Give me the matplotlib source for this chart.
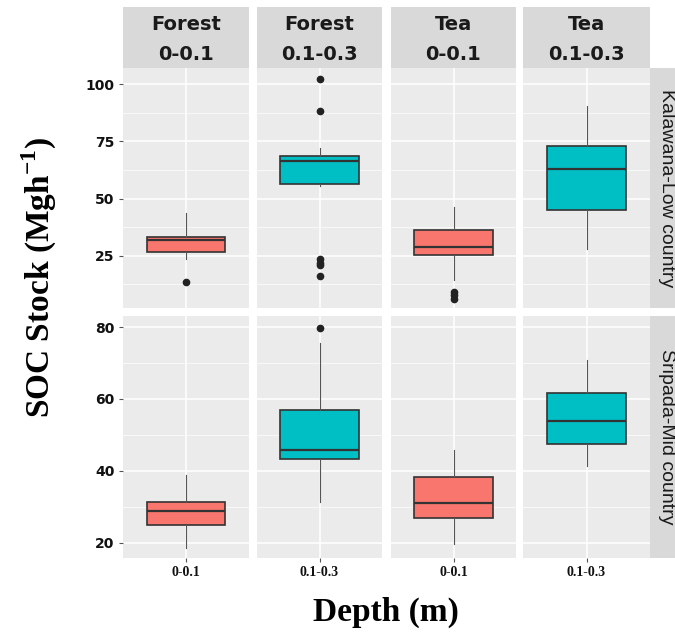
import matplotlib
matplotlib.use('Agg')
import matplotlib.pyplot as plt
from matplotlib.ticker import FixedLocator

plt.rcParams['mathtext.fontset'] = 'custom'
plt.rcParams['mathtext.rm'] = 'Liberation Serif'
plt.rcParams['mathtext.bf'] = 'Liberation Serif:bold'

# facet labels
landuse = ['Forest', 'Forest', 'Tea', 'Tea']
depth = ['0-0.1', '0.1-0.3', '0-0.1', '0.1-0.3']
sites = ['Kalawana-Low country', 'Sripada-Mid country']

# Kalawana-Low country box stats
low_whislo = [23.4, 55.4, 14.4, 27.8]
low_q1 = [26.5, 56.2, 25.3, 44.8]
low_med = [31.7, 66.6, 28.8, 63.0]
low_q3 = [33.0, 68.5, 36.2, 73.0]
low_whishi = [43.8, 71.9, 46.1, 90.6]
low_fliers = [[13.5], [102.2, 88.4, 23.4, 21.7, 20.8, 16.1], [9.2, 8.0, 6.2], []]

# Sripada-Mid country box stats
mid_whislo = [18.6, 31.3, 19.7, 41.2]
mid_q1 = [24.8, 43.4, 26.8, 47.4]
mid_med = [28.8, 45.7, 31.0, 53.8]
mid_q3 = [31.4, 56.9, 38.2, 61.6]
mid_whishi = [38.7, 75.5, 45.8, 70.9]
mid_fliers = [[], [79.7], [], []]

row_major = [[25, 50, 75, 100], [20, 40, 60, 80]]
row_minor = [[12.5, 37.5, 62.5, 87.5], [30, 50, 70]]
row_lim = [(2.2, 107), (15.7, 83.1)]

fill = {'0-0.1': '#F8766D', '0.1-0.3': '#00BFC4'}

W, H = 675.0, 636.0
cols = [(123, 249), (257, 382), (391, 516), (523, 650)]
rows = [(68, 308), (316, 558)]

def box(x0, y0, x1, y1):
    return [x0 / W, 1 - y1 / H, (x1 - x0) / W, (y1 - y0) / H]

def bare(ax, color):
    ax.set_facecolor(color)
    ax.set_xticks([])
    ax.set_yticks([])
    for s in ax.spines.values():
        s.set_visible(False)

fig = plt.figure(figsize=(6.75, 6.36), dpi=100)
fig.patch.set_facecolor('white')

stats = [
    (low_whislo, low_q1, low_med, low_q3, low_whishi, low_fliers),
    (mid_whislo, mid_q1, mid_med, mid_q3, mid_whishi, mid_fliers),
]

for r, (y0, y1) in enumerate(rows):
    wl, q1, med, q3, wh, fl = stats[r]
    for c, (x0, x1) in enumerate(cols):
        ax = fig.add_axes(box(x0, y0, x1, y1))
        ax.set_facecolor('#EBEBEB')
        for s in ax.spines.values():
            s.set_visible(False)
        st = [dict(whislo=wl[c], q1=q1[c], med=med[c], q3=q3[c], whishi=wh[c], fliers=fl[c])]
        b = ax.bxp(st, positions=[1], widths=0.75, patch_artist=True, showcaps=False,
                   boxprops=dict(facecolor=fill[depth[c]], edgecolor='#333333', linewidth=1.2),
                   medianprops=dict(color='#333333', linewidth=1.6),
                   whiskerprops=dict(color='#555555', linewidth=0.8),
                   flierprops=dict(marker='o', markerfacecolor='#222222', markeredgecolor='#222222',
                                   markersize=4.5))
        for art in b['boxes'] + b['medians'] + b['whiskers'] + b['fliers']:
            art.set_zorder(3)
        ax.set_xlim(0.4, 1.6)
        ax.set_ylim(*row_lim[r])
        ax.yaxis.set_major_locator(FixedLocator(row_major[r]))
        ax.yaxis.set_minor_locator(FixedLocator(row_minor[r]))
        ax.set_xticks([1])
        ax.grid(True, which='major', color='white', linewidth=1.1, zorder=0)
        ax.grid(True, which='minor', axis='y', color='white', linewidth=0.5, zorder=0)
        ax.set_axisbelow(True)
        ax.tick_params(axis='both', which='minor', length=0)
        ax.tick_params(axis='both', which='major', length=3, color='#555555', width=0.8, pad=3)
        if c == 0:
            ax.set_yticklabels([str(v) for v in row_major[r]], fontfamily='DejaVu Sans',
                               fontweight='bold', fontsize=10, color='#111111')
        else:
            ax.tick_params(axis='y', which='major', length=0, labelleft=False)
        if r == 1:
            ax.set_xticklabels([depth[c]], fontfamily='Liberation Serif', fontweight='bold',
                               fontsize=10, color='#111111')
        else:
            ax.tick_params(axis='x', which='major', length=0, labelbottom=False)

# top strips
for c, (x0, x1) in enumerate(cols):
    sa = fig.add_axes(box(x0, 7, x1, 68))
    bare(sa, '#D9D9D9')
    xc = (x0 + x1) / 2 / W
    fig.text(xc, 1 - 24 / H, landuse[c], ha='center', va='center', fontfamily='DejaVu Sans',
             fontweight='bold', fontsize=14, color='#1a1a1a')
    fig.text(xc, 1 - 54.5 / H, depth[c], ha='center', va='center', fontfamily='DejaVu Sans',
             fontweight='bold', fontsize=14, color='#1a1a1a')

# right strips
for r, (y0, y1) in enumerate(rows):
    sa = fig.add_axes(box(650, y0, 676, y1))
    bare(sa, '#D9D9D9')
    fig.text(666 / W, 1 - (y0 + y1) / 2 / H, sites[r], ha='center', va='center', rotation=-90,
             fontfamily='Liberation Sans', fontsize=14, color='#1a1a1a')

fig.text(386 / W, 1 - 612 / H, 'Depth (m)', ha='center', va='center',
         fontfamily='Liberation Serif', fontweight='bold', fontsize=24)
fig.text(39 / W, 1 - 278 / H, r'SOC Stock (Mgh$^{\mathbf{-1}}$)', ha='center', va='center',
         rotation=90, fontfamily='Liberation Serif', fontweight='bold', fontsize=24)

fig.savefig('out.png', dpi=100)
